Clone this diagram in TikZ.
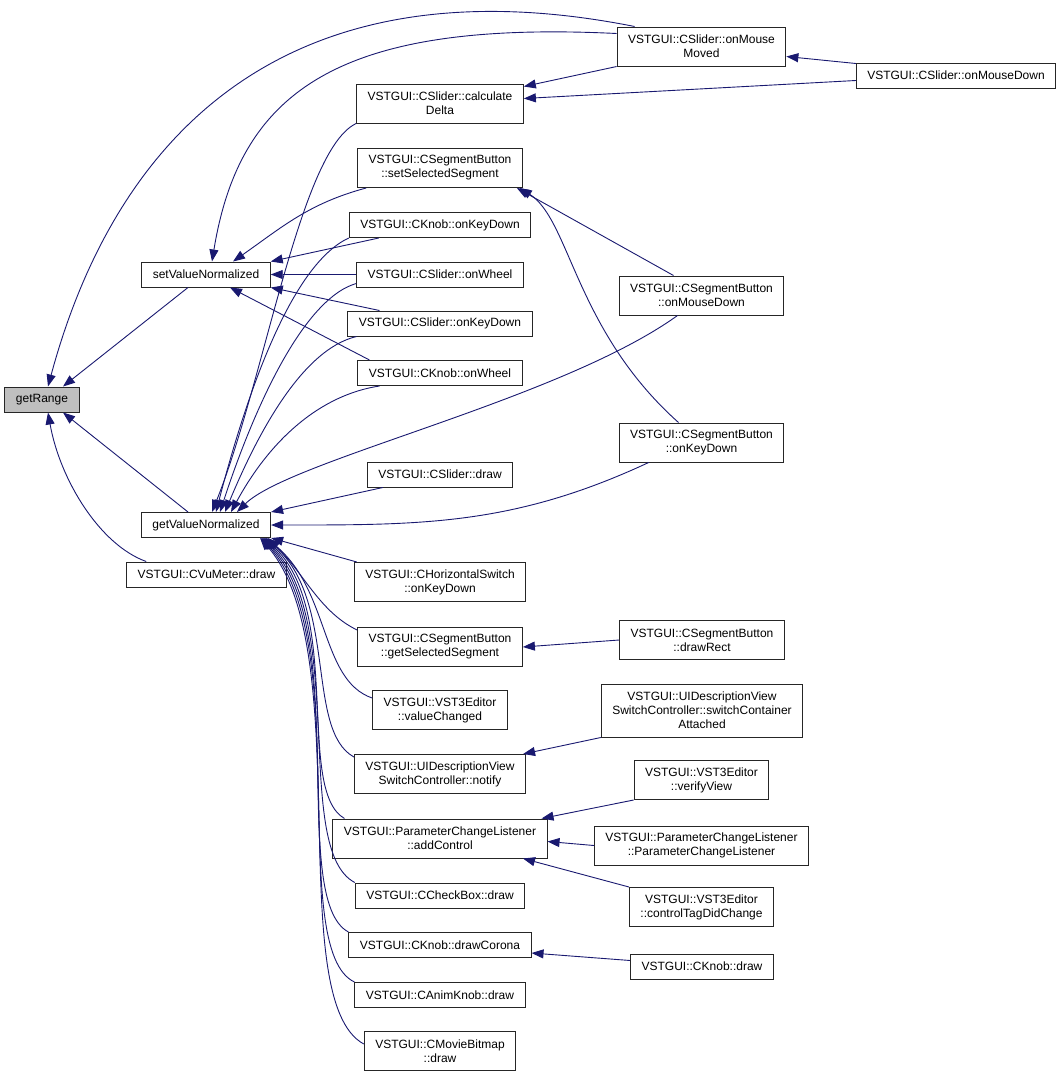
\documentclass[tikz,border=0pt]{standalone}
\usepackage{fontspec}
\setmainfont{Liberation Sans}
\usetikzlibrary{arrows.meta}
\definecolor{edgeblue}{RGB}{25,25,112}
\definecolor{rootgray}{RGB}{191,191,191}

\begin{document}
\begin{tikzpicture}[x=1pt,y=1pt,
  fn/.style={draw=black!85, line width=1pt, fill=white, align=center,
    inner xsep=11pt, inner ysep=0pt, minimum height=25pt,
    font=\fontsize{12}{14}\selectfont},
  fntwo/.style={fn, minimum height=39pt},
  fnthree/.style={fn, minimum height=53pt},
  call/.style={draw=edgeblue, line width=0.9pt,
    arrows={Triangle[length=12pt,width=9pt]-}}]
\useasboundingbox (0,0) rectangle (1061,-1077);

\node[fn, fill=rootgray] (range) at (42,-399.5) {getRange};
\node[fn] (setval) at (206,-274.5) {setValueNormalized};
\node[fn] (getval) at (206,-525) {getValueNormalized};
\node[fn] (vumeter) at (206.5,-574.5) {VSTGUI::CVuMeter::draw};

\node[fntwo] (slmoved) at (701.5,-46.5) {VSTGUI::CSlider::onMouse\\Moved};
\node[fn] (slmousedown) at (956,-75.5) {VSTGUI::CSlider::onMouseDown};
\node[fntwo] (sldelta) at (440,-103.5) {VSTGUI::CSlider::calculate\\Delta};
\node[fntwo] (sbsetsel) at (440,-168) {VSTGUI::CSegmentButton\\::setSelectedSegment};
\node[fn] (knobkey) at (440,-225) {VSTGUI::CKnob::onKeyDown};
\node[fn] (slwheel) at (440,-274.5) {VSTGUI::CSlider::onWheel};
\node[fn] (slkey) at (440,-323.5) {VSTGUI::CSlider::onKeyDown};
\node[fn] (knobwheel) at (440,-373) {VSTGUI::CKnob::onWheel};
\node[fntwo] (sbmousedown) at (701.5,-295.5) {VSTGUI::CSegmentButton\\::onMouseDown};
\node[fntwo] (sbkey) at (701.5,-442.5) {VSTGUI::CSegmentButton\\::onKeyDown};
\node[fn] (sldraw) at (440,-474.5) {VSTGUI::CSlider::draw};

\node[fntwo] (hswitchkey) at (440,-582) {VSTGUI::CHorizontalSwitch\\::onKeyDown};
\node[fntwo] (sbgetsel) at (440,-647) {VSTGUI::CSegmentButton\\::getSelectedSegment};
\node[fntwo] (sbdrawrect) at (702,-640) {VSTGUI::CSegmentButton\\::drawRect};
\node[fntwo] (vstvalue) at (440,-710) {VSTGUI::VST3Editor\\::valueChanged};
\node[fnthree] (swattached) at (702,-710.5) {VSTGUI::UIDescriptionView\\SwitchController::switchContainer\\Attached};
\node[fntwo] (swnotify) at (440,-774) {VSTGUI::UIDescriptionView\\SwitchController::notify};
\node[fntwo] (vstverify) at (701.5,-780) {VSTGUI::VST3Editor\\::verifyView};
\node[fntwo] (pcladd) at (440,-838.5) {VSTGUI::ParameterChangeListener\\::addControl};
\node[fntwo] (pclctor) at (701.5,-845.5) {VSTGUI::ParameterChangeListener\\::ParameterChangeListener};
\node[fntwo] (vsttag) at (701.5,-907) {VSTGUI::VST3Editor\\::controlTagDidChange};
\node[fn] (checkbox) at (440,-895.5) {VSTGUI::CCheckBox::draw};
\node[fn] (knobcorona) at (440,-945) {VSTGUI::CKnob::drawCorona};
\node[fn] (knobdraw) at (702,-966.5) {VSTGUI::CKnob::draw};
\node[fn] (animknob) at (440,-995) {VSTGUI::CAnimKnob::draw};
\node[fntwo] (moviebitmap) at (440,-1051) {VSTGUI::CMovieBitmap\\::draw};

\draw[call] ([xshift=6pt]range.north) .. controls (120,-120) and (300,40) .. ([xshift=18pt]slmoved.north west);
\draw[call] ([xshift=21pt]range.north) -- ([xshift=-18pt]setval.south);
\draw[call] ([xshift=21pt]range.south) -- ([xshift=-18pt]getval.north);
\draw[call] ([xshift=6pt]range.south) .. controls (60,-480) and (100,-545) .. ([xshift=20pt]vumeter.north west);

\draw[call] ([xshift=6pt]setval.north) .. controls (240,-90) and (340,-20) .. ([yshift=13pt]slmoved.west);
\draw[call] ([xshift=27pt]setval.north) to[out=35,in=-165] ([xshift=9pt]sbsetsel.south west);
\draw[call] (setval.north east) -- ([xshift=30pt]knobkey.south west);
\draw[call] (setval.east) -- (slwheel.west);
\draw[call] (setval.south east) -- ([xshift=32pt]slkey.north west);
\draw[call] ([xshift=24pt]setval.south) -- ([xshift=12pt]knobwheel.north west);

\draw[call] ([xshift=6pt]getval.north) .. controls (265,-380) and (300,-150) .. (sldelta.south west);
\draw[call] ([xshift=10pt]getval.north) .. controls (245,-400) and (290,-265) .. (knobkey.south west);
\draw[call] ([xshift=14pt]getval.north) .. controls (250,-420) and (300,-300) .. ([yshift=4pt]slwheel.south west);
\draw[call] ([xshift=19pt]getval.north) .. controls (255,-440) and (300,-350) .. ([xshift=9pt]slkey.south west);
\draw[call] ([xshift=25pt]getval.north) .. controls (270,-440) and (320,-395) .. ([xshift=22pt]knobwheel.south west);
\draw[call] ([xshift=31pt]getval.north) .. controls (290,-460) and (560,-400) .. ([xshift=-24pt]sbmousedown.south);
\draw[call] (getval.north east) -- ([xshift=16pt]sldraw.south west);
\draw[call] (getval.east) to[out=0,in=-155] ([xshift=30pt]sbkey.south west);

\draw[call] (getval.south east) -- ([xshift=3pt]hswitchkey.north west);
\draw[call] ([xshift=-3pt]getval.south east) .. controls (305,-575) and (320,-612) .. ([yshift=-3pt]sbgetsel.north west);
\draw[call] ([xshift=-5pt]getval.south east) .. controls (330,-590) and (320,-680) .. ([yshift=-8pt]vstvalue.north west);
\draw[call] ([xshift=-6pt]getval.south east) .. controls (338,-600) and (305,-730) .. ([yshift=-3pt]swnotify.north west);
\draw[call] ([xshift=-7pt]getval.south east) .. controls (344,-610) and (295,-790) .. ([xshift=12pt]pcladd.north west);
\draw[call] ([xshift=-8pt]getval.south east) .. controls (348,-620) and (292,-850) .. (checkbox.north west);
\draw[call] ([xshift=-9pt]getval.south east) .. controls (352,-630) and (288,-900) .. (knobcorona.north west);
\draw[call] ([xshift=-10pt]getval.south east) .. controls (355,-640) and (286,-950) .. (animknob.north west);
\draw[call] ([xshift=-11pt]getval.south east) .. controls (358,-650) and (282,-1000) .. ([yshift=-13pt]moviebitmap.north west);

\draw[call] ([yshift=-10pt]slmoved.east) -- ([yshift=12pt]slmousedown.west);
\draw[call] ([yshift=5pt]sldelta.east) -- ([yshift=-5pt]slmousedown.west);
\draw[call] ([yshift=17pt]sldelta.east) -- (slmoved.south west);
\draw[call] ([xshift=-6pt]sbsetsel.south east) -- ([xshift=-28pt]sbmousedown.north);
\draw[call] ([xshift=-3pt]sbsetsel.south east) .. controls (570,-220) and (575,-330) .. ([xshift=-23pt]sbkey.north);
\draw[call] (sbgetsel.east) -- (sbdrawrect.west);
\draw[call] ([xshift=-3pt]swnotify.north east) -- (swattached.south west);
\draw[call] ([xshift=-6pt]pcladd.north east) -- (vstverify.south west);
\draw[call] ([yshift=-3pt]pcladd.east) -- (pclctor.west);
\draw[call] ([xshift=83pt]pcladd.south) -- (vsttag.north west);
\draw[call] ([yshift=-8pt]knobcorona.east) -- ([yshift=6pt]knobdraw.west);
\end{tikzpicture}
\end{document}
